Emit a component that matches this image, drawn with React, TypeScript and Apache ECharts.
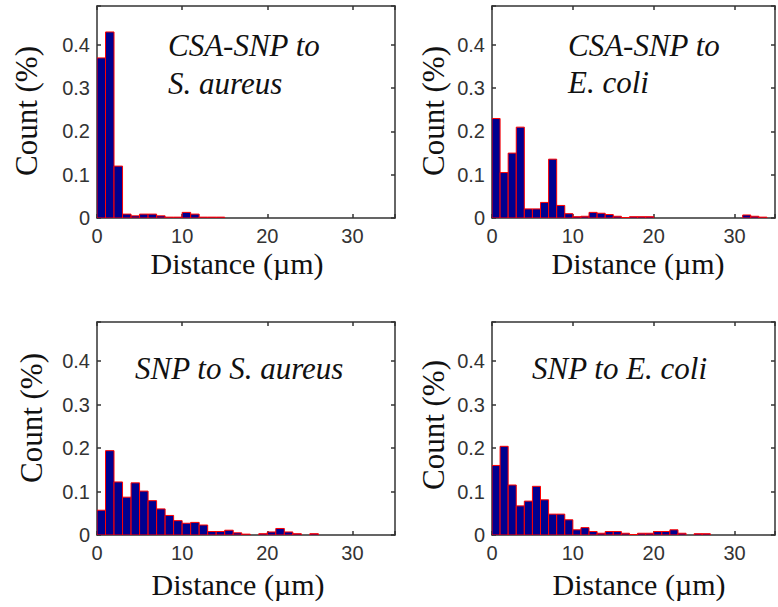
import React, { useEffect, useRef } from "react";
import * as echarts from "echarts";

// ---- data (fraction of counts per 1 µm distance bin, bins start at 0) ----
const BIN_WIDTH = 1;
const X_TICKS = [0, 10, 20, 30];
const Y_TICKS = [0, 0.1, 0.2, 0.3, 0.4];

const csaSnpToSAureus = [
  0.37, 0.43, 0.12, 0.009, 0.005, 0.009, 0.009, 0.005, 0.002, 0.002, 0.013, 0.009, 0.002, 0.002, 0.002,
];
const csaSnpToEColi = [
  0.23, 0.105, 0.15, 0.21, 0.021, 0.021, 0.036, 0.136, 0.029, 0.01, 0.003, 0.004, 0.013, 0.011, 0.008,
  0.004, 0.001, 0.003, 0.003, 0.003, null, null, null, null, null, null, null, null, null, null, null,
  0.007, 0.004, 0.002,
];
const snpToSAureus = [
  0.057, 0.194, 0.122, 0.087, 0.12, 0.101, 0.079, 0.06, 0.045, 0.033, 0.027, 0.029, 0.023, 0.008, 0.008,
  0.011, 0.005, 0.002, null, 0.003, 0.007, 0.015, 0.007, 0.003, null, 0.003,
];
const snpToEColi = [
  0.16, 0.204, 0.115, 0.067, 0.078, 0.112, 0.081, 0.048, 0.048, 0.035, 0.012, 0.017, 0.008, 0.004, 0.008,
  0.008, 0.004, 0.001, 0.004, 0.004, 0.008, 0.008, 0.012, 0.004, null, 0.003, 0.003,
];

const PANEL_TITLES = [
  ["CSA-SNP to", "S. aureus"],
  ["CSA-SNP to", "E. coli"],
  ["SNP to S. aureus"],
  ["SNP to E. coli"],
];
const PANEL_VALUES = [csaSnpToSAureus, csaSnpToEColi, snpToSAureus, snpToEColi];
const X_NAME = "Distance (µm)";
const Y_NAME = "Count (%)";

// ---- layout ----
const GRIDS = [
  { left: 97, top: 6, width: 298, height: 212 },
  { left: 492, top: 6, width: 298, height: 212 },
  { left: 97, top: 322, width: 298, height: 213 },
  { left: 492, top: 322, width: 298, height: 213 },
];
const TITLE_POS = [
  [[168, 45], [168, 83]],
  [[568, 45], [568, 82]],
  [[135, 368]],
  [[532, 368]],
];
const YNAME_POS = [
  [26, 111],
  [433, 111],
  [31, 418],
  [433, 425],
];
// top-centre of the x-axis title
const XNAME_POS = [
  [237, 248],
  [638, 248],
  [238, 569],
  [639, 569],
];

const AXIS_COLOR = "#333";
const SERIF = "'Liberation Serif', 'Times New Roman', serif";
const SANS = "'Liberation Sans', Arial, sans-serif";

function fmtX(v: number) {
  return X_TICKS.includes(v) ? String(v) : "";
}
function fmtY(v: number) {
  const hit = Y_TICKS.find((t) => Math.abs(t - v) < 1e-9);
  if (hit === undefined) return "";
  return hit === 0 ? "0" : hit.toFixed(1);
}

export default function App() {
  const ref = useRef<HTMLDivElement>(null);

  useEffect(() => {
    if (!ref.current) return;
    const chart = echarts.init(ref.current, undefined, { renderer: "svg" });

    const grid: any[] = [];
    const xAxis: any[] = [];
    const yAxis: any[] = [];
    const series: any[] = [];
    const graphic: any[] = [];

    const lineStyle = { color: AXIS_COLOR, width: 1.5 };

    GRIDS.forEach((g, i) => {
      grid.push({ ...g, containLabel: false });
      const baseX = {
        type: "value",
        gridIndex: i,
        min: 0,
        max: 35,
        interval: 10,
        splitLine: { show: false },
        axisLine: { show: true, onZero: false, lineStyle },
        axisTick: { show: true, inside: true, length: 4, lineStyle },
      };
      xAxis.push({
        ...baseX,
        position: "bottom",
        axisLabel: {
          show: true,
          formatter: fmtX,
          margin: 8,
          fontFamily: SANS,
          fontSize: 20,
          lineHeight: 20,
          color: "#333",
        },
      });
      xAxis.push({ ...baseX, position: "top", axisLabel: { show: false } });
      const baseY = {
        type: "value",
        gridIndex: i,
        min: 0,
        max: 0.49,
        interval: 0.1,
        splitLine: { show: false },
        axisLine: { show: true, onZero: false, lineStyle },
        axisTick: { show: true, inside: true, length: 4, lineStyle },
      };
      yAxis.push({
        ...baseY,
        position: "left",
        axisLabel: {
          show: true,
          formatter: fmtY,
          margin: 7,
          fontFamily: SANS,
          fontSize: 20,
          color: "#333",
        },
      });
      yAxis.push({ ...baseY, position: "right", axisLabel: { show: false } });

      const vals = PANEL_VALUES[i];
      series.push({
        type: "custom",
        xAxisIndex: i * 2,
        yAxisIndex: i * 2,
        clip: true,
        data: vals.map((v, k) => [k * BIN_WIDTH, (k + 1) * BIN_WIDTH, v === null ? "-" : v]),
        renderItem: (params: any, api: any) => {
          const y = api.value(2);
          if (y === null || isNaN(y)) return null;
          const p0 = api.coord([api.value(0), y]);
          const p1 = api.coord([api.value(1), 0]);
          return {
            type: "rect",
            shape: { x: p0[0], y: p0[1], width: p1[0] - p0[0], height: p1[1] - p0[1] },
            style: { fill: "#00008F", stroke: "#FF0000", lineWidth: 1 },
          };
        },
      });

      PANEL_TITLES[i].forEach((t, j) => {
        const [x, y] = TITLE_POS[i][j];
        graphic.push({
          type: "text",
          x,
          y,
          z: 10,
          style: {
            text: t,
            font: `italic 31px ${SERIF}`,
            fill: "#111",
            align: "left",
            verticalAlign: "middle",
            textAlign: "left",
            textVerticalAlign: "middle",
          },
        });
      });

      graphic.push({
        type: "text",
        x: YNAME_POS[i][0],
        y: YNAME_POS[i][1],
        rotation: Math.PI / 2,
        style: {
          text: Y_NAME,
          font: `31px ${SERIF}`,
          fill: "#111",
          align: "center",
          verticalAlign: "middle",
          textAlign: "center",
          textVerticalAlign: "middle",
        },
      });
      graphic.push({
        type: "text",
        x: XNAME_POS[i][0],
        y: XNAME_POS[i][1],
        style: {
          text: X_NAME,
          font: `30px ${SERIF}`,
          fill: "#111",
          align: "center",
          verticalAlign: "top",
          textAlign: "center",
          textVerticalAlign: "top",
        },
      });
    });

    chart.setOption({
      animation: false,
      backgroundColor: "#fff",
      grid,
      xAxis,
      yAxis,
      series,
      graphic,
    });

    return () => chart.dispose();
  }, []);

  return (
    <div
      ref={ref}
      style={{ position: "absolute", left: 0, top: 0, width: 778, height: 607, background: "#fff" }}
    />
  );
}
